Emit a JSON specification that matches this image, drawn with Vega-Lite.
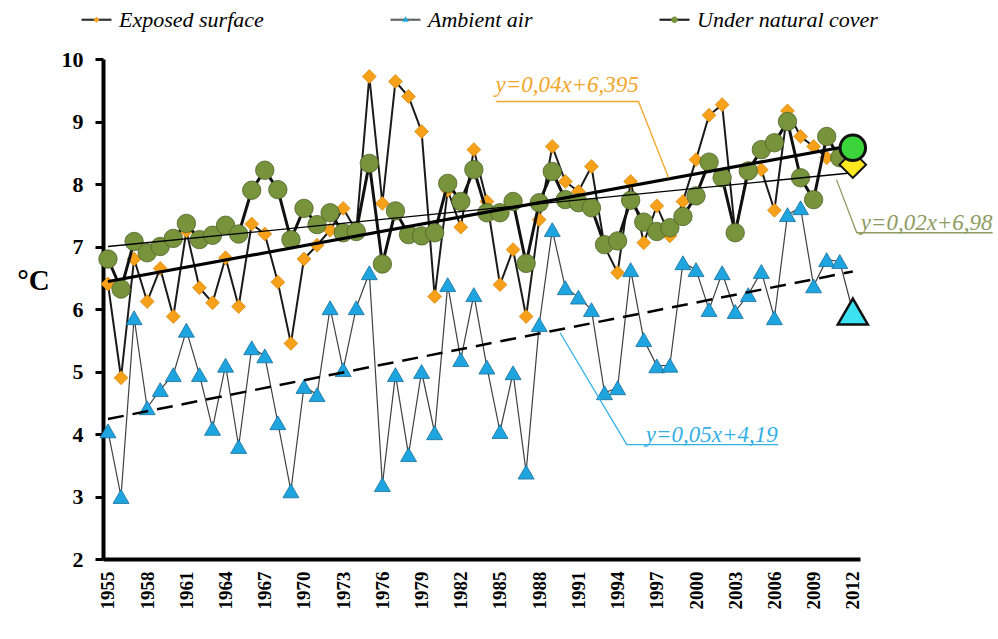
{
  "$schema": "https://vega.github.io/schema/vega-lite/v6.json",
  "width": 757,
  "height": 500,
  "autosize": {"type": "none"},
  "padding": {"left": 103, "top": 59, "right": 138, "bottom": 80},
  "background": "white",
  "config": {"view": {"stroke": null}, "font": "Liberation Serif"},
  "datasets": {
    "obs": [
      {"year": 1955, "exposed": 6.40, "ambient": 4.05, "cover": 6.80},
      {"year": 1956, "exposed": 4.90, "ambient": 3.00, "cover": 6.32},
      {"year": 1957, "exposed": 6.80, "ambient": 5.86, "cover": 7.08},
      {"year": 1958, "exposed": 6.12, "ambient": 4.42, "cover": 6.90},
      {"year": 1959, "exposed": 6.65, "ambient": 4.71, "cover": 7.00},
      {"year": 1960, "exposed": 5.88, "ambient": 4.95, "cover": 7.13},
      {"year": 1961, "exposed": 7.25, "ambient": 5.66, "cover": 7.37},
      {"year": 1962, "exposed": 6.34, "ambient": 4.95, "cover": 7.11},
      {"year": 1963, "exposed": 6.10, "ambient": 4.09, "cover": 7.18},
      {"year": 1964, "exposed": 6.82, "ambient": 5.10, "cover": 7.34},
      {"year": 1965, "exposed": 6.04, "ambient": 3.80, "cover": 7.20},
      {"year": 1966, "exposed": 7.36, "ambient": 5.38, "cover": 7.90},
      {"year": 1967, "exposed": 7.20, "ambient": 5.25, "cover": 8.22},
      {"year": 1968, "exposed": 6.43, "ambient": 4.18, "cover": 7.91},
      {"year": 1969, "exposed": 5.45, "ambient": 3.09, "cover": 7.11},
      {"year": 1970, "exposed": 6.80, "ambient": 4.76, "cover": 7.61},
      {"year": 1971, "exposed": 7.02, "ambient": 4.63, "cover": 7.35},
      {"year": 1972, "exposed": 7.26, "ambient": 6.02, "cover": 7.54},
      {"year": 1973, "exposed": 7.61, "ambient": 5.03, "cover": 7.22},
      {"year": 1974, "exposed": 7.25, "ambient": 6.02, "cover": 7.24},
      {"year": 1975, "exposed": 9.72, "ambient": 6.58, "cover": 8.33},
      {"year": 1976, "exposed": 7.69, "ambient": 3.19, "cover": 6.72},
      {"year": 1977, "exposed": 9.64, "ambient": 4.95, "cover": 7.57},
      {"year": 1978, "exposed": 9.40, "ambient": 3.67, "cover": 7.19},
      {"year": 1979, "exposed": 8.84, "ambient": 5.00, "cover": 7.17},
      {"year": 1980, "exposed": 6.20, "ambient": 4.02, "cover": 7.22},
      {"year": 1981, "exposed": 7.90, "ambient": 6.39, "cover": 8.01},
      {"year": 1982, "exposed": 7.31, "ambient": 5.19, "cover": 7.72},
      {"year": 1983, "exposed": 8.55, "ambient": 6.23, "cover": 8.23},
      {"year": 1984, "exposed": 7.72, "ambient": 5.07, "cover": 7.54},
      {"year": 1985, "exposed": 6.39, "ambient": 4.04, "cover": 7.54},
      {"year": 1986, "exposed": 6.95, "ambient": 4.98, "cover": 7.72},
      {"year": 1987, "exposed": 5.88, "ambient": 3.39, "cover": 6.73},
      {"year": 1988, "exposed": 7.43, "ambient": 5.75, "cover": 7.70},
      {"year": 1989, "exposed": 8.60, "ambient": 7.27, "cover": 8.20},
      {"year": 1990, "exposed": 8.04, "ambient": 6.34, "cover": 7.75},
      {"year": 1991, "exposed": 7.88, "ambient": 6.19, "cover": 7.70},
      {"year": 1992, "exposed": 8.28, "ambient": 5.99, "cover": 7.62},
      {"year": 1993, "exposed": 7.00, "ambient": 4.66, "cover": 7.03},
      {"year": 1994, "exposed": 6.58, "ambient": 4.74, "cover": 7.09},
      {"year": 1995, "exposed": 8.04, "ambient": 6.63, "cover": 7.74},
      {"year": 1996, "exposed": 7.06, "ambient": 5.51, "cover": 7.39},
      {"year": 1997, "exposed": 7.65, "ambient": 5.09, "cover": 7.24},
      {"year": 1998, "exposed": 7.17, "ambient": 5.10, "cover": 7.30},
      {"year": 1999, "exposed": 7.72, "ambient": 6.74, "cover": 7.48},
      {"year": 2000, "exposed": 8.39, "ambient": 6.63, "cover": 7.81},
      {"year": 2001, "exposed": 9.10, "ambient": 5.99, "cover": 8.35},
      {"year": 2002, "exposed": 9.27, "ambient": 6.58, "cover": 8.10},
      {"year": 2003, "exposed": 7.22, "ambient": 5.96, "cover": 7.22},
      {"year": 2004, "exposed": 8.25, "ambient": 6.23, "cover": 8.21},
      {"year": 2005, "exposed": 8.23, "ambient": 6.60, "cover": 8.55},
      {"year": 2006, "exposed": 7.58, "ambient": 5.86, "cover": 8.66},
      {"year": 2007, "exposed": 9.17, "ambient": 7.51, "cover": 9.00},
      {"year": 2008, "exposed": 8.76, "ambient": 7.62, "cover": 8.10},
      {"year": 2009, "exposed": 8.60, "ambient": 6.37, "cover": 7.75},
      {"year": 2010, "exposed": 8.42, "ambient": 6.79, "cover": 8.76},
      {"year": 2011, "exposed": 8.45, "ambient": 6.76, "cover": 8.42},
      {"year": 2012, "exposed": 8.31, "ambient": 5.96, "cover": 8.58}
    ],
    "trend": [
      {"line": "exposed", "year": 1955, "value": 6.44},
      {"line": "exposed", "year": 2012, "value": 8.62},
      {"line": "cover", "year": 1955, "value": 7.0},
      {"line": "cover", "year": 2012, "value": 8.18},
      {"line": "ambient", "year": 1955, "value": 4.24},
      {"line": "ambient", "year": 2012, "value": 6.6}
    ],
    "leaders": [
      {"id": "exposed", "year": 1984.7, "value": 9.32},
      {"id": "exposed", "year": 1995.6, "value": 9.32},
      {"id": "exposed", "year": 1997.9, "value": 8.1},
      {"id": "cover", "year": 2010.75, "value": 8.07},
      {"id": "cover", "year": 2012.3, "value": 7.22},
      {"id": "cover", "year": 2022.7, "value": 7.22},
      {"id": "ambient", "year": 1989.6, "value": 5.62},
      {"id": "ambient", "year": 1994.7, "value": 3.83},
      {"id": "ambient", "year": 2006.3, "value": 3.83}
    ],
    "notes": [
      {"id": "exposed", "year": 1984.65, "value": 9.47, "label": "y=0,04x+6,395"},
      {"id": "cover", "year": 2012.6, "value": 7.27, "label": "y=0,02x+6,98"},
      {"id": "ambient", "year": 1996.15, "value": 3.87, "label": "y=0,05x+4,19"}
    ]
  },
  "data": {"name": "obs"},
  "encoding": {
    "x": {
      "field": "year",
      "type": "quantitative",
      "scale": {"domain": [1954.62, 2012.55], "nice": false, "zero": false},
      "axis": {
        "title": null,
        "values": [1955, 1958, 1961, 1964, 1967, 1970, 1973, 1976, 1979, 1982, 1985, 1988, 1991, 1994, 1997, 2000, 2003, 2006, 2009, 2012],
        "format": "d",
        "labelAngle": -90,
        "labelFont": "Liberation Serif",
        "labelFontSize": 19,
        "labelFontWeight": "bold",
        "labelColor": "black",
        "labelPadding": 12,
        "ticks": false,
        "domainColor": "black",
        "domainWidth": 4,
        "grid": false,
        "labelOverlap": false,
        "labelFlush": false
      }
    },
    "y": {
      "field": "value",
      "type": "quantitative",
      "scale": {"domain": [2, 10], "nice": false, "zero": false},
      "axis": {
        "title": "°C",
        "titleAngle": 0,
        "titleX": -70,
        "titleY": 221,
        "titleAlign": "center",
        "titleBaseline": "middle",
        "titleFont": "Liberation Serif",
        "titleFontSize": 29,
        "titleFontWeight": "bold",
        "titleColor": "black",
        "values": [2, 3, 4, 5, 6, 7, 8, 9, 10],
        "format": "d",
        "labelFont": "Liberation Serif",
        "labelFontSize": 22,
        "labelFontWeight": "bold",
        "labelColor": "black",
        "labelPadding": 12,
        "tickSize": 8,
        "tickWidth": 3,
        "tickColor": "black",
        "domainColor": "black",
        "domainWidth": 4,
        "grid": false,
        "labelFlush": false
      }
    }
  },
  "resolve": {"scale": {"shape": "independent", "fill": "independent", "stroke": "independent"}},
  "layer": [
    {
      "transform": [{"fold": ["exposed"], "as": ["series", "value"]}],
      "mark": {"type": "line", "color": "#1a1a1a", "strokeWidth": 2},
      "encoding": {}
    },
    {
      "transform": [{"fold": ["exposed"], "as": ["series", "value"]}],
      "mark": {"type": "point", "shape": "diamond", "filled": true, "fill": "#F7A11A", "stroke": "#D98A0E", "strokeWidth": 0.8, "size": 190, "opacity": 1},
      "encoding": {}
    },
    {
      "transform": [{"fold": ["ambient"], "as": ["series", "value"]}],
      "mark": {"type": "line", "color": "#404040", "strokeWidth": 1.2},
      "encoding": {}
    },
    {
      "transform": [{"fold": ["ambient"], "as": ["series", "value"]}],
      "mark": {"type": "point", "shape": "triangle-up", "filled": true, "fill": "#1EA5E0", "stroke": "#17709C", "strokeWidth": 0.8, "size": 256, "opacity": 1},
      "encoding": {}
    },
    {
      "transform": [{"fold": ["cover"], "as": ["series", "value"]}],
      "mark": {"type": "line", "color": "#111111", "strokeWidth": 3},
      "encoding": {}
    },
    {
      "transform": [{"fold": ["cover"], "as": ["series", "value"]}],
      "mark": {"type": "point", "shape": "circle", "filled": true, "fill": "#77933C", "stroke": "#4E6228", "strokeWidth": 0.8, "size": 340, "opacity": 1},
      "encoding": {}
    },
    {
      "data": {"name": "trend"},
      "transform": [{"filter": "datum.line === 'exposed'"}],
      "mark": {"type": "line", "color": "#000000", "strokeWidth": 3.2},
      "encoding": {}
    },
    {
      "data": {"name": "trend"},
      "transform": [{"filter": "datum.line === 'cover'"}],
      "mark": {"type": "line", "color": "#000000", "strokeWidth": 1.3},
      "encoding": {}
    },
    {
      "data": {"name": "trend"},
      "transform": [{"filter": "datum.line === 'ambient'"}],
      "mark": {"type": "line", "color": "#000000", "strokeWidth": 2.5, "strokeDash": [16, 9]},
      "encoding": {}
    },
    {
      "transform": [{"fold": ["exposed"], "as": ["series", "value"]}, {"filter": "datum.year === 2012"}],
      "mark": {"type": "point", "shape": "diamond", "filled": true, "fill": "#FFE81F", "stroke": "#111111", "strokeWidth": 2, "size": 700, "opacity": 1},
      "encoding": {}
    },
    {
      "transform": [{"fold": ["ambient"], "as": ["series", "value"]}, {"filter": "datum.year === 2012"}],
      "mark": {"type": "point", "shape": "triangle-up", "filled": true, "fill": "#3DE2F2", "stroke": "#111111", "strokeWidth": 2.5, "size": 900, "opacity": 1},
      "encoding": {}
    },
    {
      "transform": [{"fold": ["cover"], "as": ["series", "value"]}, {"filter": "datum.year === 2012"}],
      "mark": {"type": "point", "shape": "circle", "filled": true, "fill": "#3BD43B", "stroke": "#111111", "strokeWidth": 3, "size": 650, "opacity": 1},
      "encoding": {}
    },
    {
      "data": {"name": "leaders"},
      "mark": {"type": "line", "strokeWidth": 1.3},
      "encoding": {
        "color": {"field": "id", "type": "nominal", "scale": {"domain": ["exposed", "ambient", "cover"], "range": ["#F2A62A", "#33B0E5", "#8E9B62"]}, "legend": null},
        "detail": {"field": "id"}
      }
    },
    {
      "data": {"name": "notes"},
      "mark": {"type": "text", "align": "left", "baseline": "alphabetic", "font": "Liberation Serif", "fontStyle": "italic", "fontSize": 23},
      "encoding": {
        "text": {"field": "label"},
        "color": {"field": "id", "type": "nominal", "scale": {"domain": ["exposed", "ambient", "cover"], "range": ["#F2A62A", "#33B0E5", "#8E9B62"]}, "legend": null}
      }
    },
    {
      "transform": [{"fold": ["exposed", "ambient", "cover"], "as": ["series", "value"]}, {"filter": "datum.year < 0"}],
      "mark": {"type": "point", "filled": false, "opacity": 1},
      "encoding": {
        "shape": {
          "field": "series",
          "type": "nominal",
          "scale": {"domain": ["Exposed surface", "Ambient air", "Under natural cover"], "range": ["M-1,0L1,0", "M-1,0L1,0", "M-1,0L1,0"]},
          "legend": {"title": null, "orient": "none", "legendX": -23, "legendY": -56, "direction": "horizontal", "symbolSize": 900, "symbolStrokeWidth": 2.2, "labelFont": "Liberation Serif", "labelFontStyle": "italic", "labelFontSize": 22, "labelColor": "black", "labelOpacity": 0, "labelOffset": 6, "columnPadding": 122, "padding": 0, "labelLimit": 400}
        },
        "stroke": {
          "field": "series",
          "type": "nominal",
          "scale": {"domain": ["Exposed surface", "Ambient air", "Under natural cover"], "range": ["#333333", "#666666", "#222222"]},
          "legend": {"title": null, "orient": "none", "legendX": -23, "legendY": -56, "direction": "horizontal", "symbolSize": 900, "symbolStrokeWidth": 2.2, "labelFont": "Liberation Serif", "labelFontStyle": "italic", "labelFontSize": 22, "labelColor": "black", "labelOpacity": 0, "labelOffset": 6, "columnPadding": 122, "padding": 0, "labelLimit": 400}
        }
      }
    },
    {
      "transform": [{"fold": ["exposed", "ambient", "cover"], "as": ["series", "value"]}, {"filter": "datum.year < 0"}],
      "mark": {"type": "point", "filled": true, "opacity": 1},
      "encoding": {
        "shape": {
          "field": "series",
          "type": "nominal",
          "scale": {
            "domain": ["Exposed surface", "Ambient air", "Under natural cover"],
            "range": [
              "M-1,0L1,0M0,-0.2L0.2,0L0,0.2L-0.2,0Z",
              "M-1,0L1,0M0,-0.24L0.22,0.14L-0.22,0.14Z",
              "M-1,0L1,0M-0.22,0A0.22,0.22,0,1,0,0.22,0A0.22,0.22,0,1,0,-0.22,0Z"
            ]
          },
          "legend": {"title": null, "orient": "none", "legendX": -23, "legendY": -56, "direction": "horizontal", "symbolSize": 900, "symbolStrokeWidth": 2.2, "labelFont": "Liberation Serif", "labelFontStyle": "italic", "labelFontSize": 22, "labelColor": "black", "labelOffset": 6, "columnPadding": 122, "padding": 0, "labelLimit": 400}
        },
        "fill": {
          "field": "series",
          "type": "nominal",
          "scale": {"domain": ["Exposed surface", "Ambient air", "Under natural cover"], "range": ["#F7A11A", "#1EA5E0", "#77933C"]},
          "legend": {"title": null, "orient": "none", "legendX": -23, "legendY": -56, "direction": "horizontal", "symbolSize": 900, "symbolStrokeWidth": 2.2, "labelFont": "Liberation Serif", "labelFontStyle": "italic", "labelFontSize": 22, "labelColor": "black", "labelOffset": 6, "columnPadding": 122, "padding": 0, "labelLimit": 400}
        }
      }
    }
  ]
}
